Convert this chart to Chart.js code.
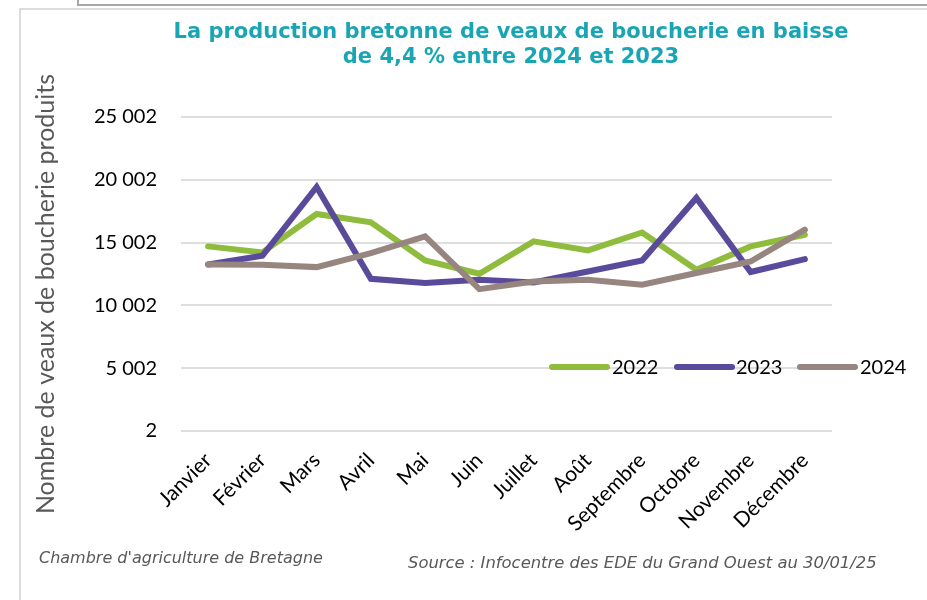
<!DOCTYPE html>
<html lang="fr">
<head>
<meta charset="utf-8">
<script src="https://cdn.jsdelivr.net/npm/chart.js@4/dist/chart.umd.min.js"></script>
<style>
  html, body { margin: 0; padding: 0; background: #fff; }
  #wrap { width: 927px; height: 600px; }
</style>
</head>
<body>
<div id="wrap"><canvas id="veaux" width="927" height="600"></canvas></div>
<script>
// mois et valeurs
const mois = ['Janvier', 'Février', 'Mars', 'Avril', 'Mai', 'Juin', 'Juillet', 'Août', 'Septembre', 'Octobre', 'Novembre', 'Décembre'];
const prod2022 = [14700, 14220, 17280, 16610, 13580, 12520, 15100, 14380, 15810, 12840, 14700, 15630];
const prod2023 = [13260, 13950, 19430, 12120, 11780, 12040, 11830, 12700, 13580, 18560, 12660, 13690];
const prod2024 = [13260, 13240, 13050, 14170, 15500, 11300, 11910, 12040, 11650, 12580, 13500, 16030];
const yTicks = [2, 5002, 10002, 15002, 20002, 25002];

const titre = ['La production bretonne de veaux de boucherie en baisse', 'de 4,4 % entre 2024 et 2023'];
const titreAxeY = 'Nombre de veaux de boucherie produits';
const noteGauche = "Chambre d'agriculture de Bretagne";
const noteDroite = 'Source : Infocentre des EDE du Grand Ouest au 30/01/25';

const fmt = v => String(v).replace(/\B(?=(\d{3})+(?!\d))/g, ' ');

// cadre, titres, légende et notes
const decor = {
    id: 'decor',
    beforeDraw(chart) {
        const c = chart.ctx;
        c.save();
        c.lineWidth = 2;
        c.strokeStyle = '#a6a6a6';
        c.beginPath();
        c.moveTo(78, 0); c.lineTo(78, 5); c.lineTo(927, 5);
        c.stroke();
        c.strokeStyle = '#dcdcdc';
        c.beginPath();
        c.moveTo(20, 600); c.lineTo(20, 9); c.lineTo(927, 9);
        c.stroke();
        c.restore();
    },
    afterDraw(chart) {
        const c = chart.ctx;
        c.save();
        // titre
        c.fillStyle = '#1aa5b5';
        c.font = 'bold 21px "DejaVu Sans"';
        c.textAlign = 'center';
        c.textBaseline = 'alphabetic';
        c.fillText(titre[0], 511, 38);
        c.fillText(titre[1], 511, 63);
        // titre axe Y
        c.fillStyle = '#595959';
        c.font = '25px Lato';
        c.translate(54, 294);
        c.rotate(-Math.PI / 2);
        c.fillText(titreAxeY, 0, 0);
        c.restore();

        // légende
        c.save();
        const leg = [[552, 612], [677, 736], [800, 860]];
        c.font = '20px Lato';
        c.textBaseline = 'middle';
        c.textAlign = 'left';
        chart.data.datasets.forEach((ds, i) => {
            c.strokeStyle = ds.borderColor;
            c.lineWidth = 6;
            c.lineCap = 'round';
            c.beginPath();
            c.moveTo(leg[i][0], 367);
            c.lineTo(leg[i][0] + 55, 367);
            c.stroke();
            c.fillStyle = '#000';
            c.fillText(ds.label, leg[i][1], 368);
        });
        // notes
        c.fillStyle = '#595959';
        c.font = 'italic 16px "DejaVu Sans"';
        c.textBaseline = 'alphabetic';
        c.fillText(noteGauche, 39, 563);
        c.font = 'italic 16.4px "DejaVu Sans"';
        c.fillText(noteDroite, 408, 568);
        c.restore();
    }
};

const ctx = document.getElementById('veaux').getContext('2d');
const chart = new Chart(ctx, {
    type: 'line',
    data: {
        labels: mois,
        datasets: [
            { label: '2022', data: prod2022, borderColor: '#8fbc3c', order: 2 },
            { label: '2023', data: prod2023, borderColor: '#5a4a9c', order: 1 },
            { label: '2024', data: prod2024, borderColor: '#978680', order: 0 }
        ]
    },
    options: {
        responsive: false,
        animation: false,
        layout: { padding: { left: 20, right: 95, top: 117, bottom: 0 } },
        elements: {
            point: { radius: 0, hoverRadius: 0 },
            line: { borderWidth: 6, tension: 0, borderCapStyle: 'round', borderJoinStyle: 'miter', fill: false }
        },
        plugins: {
            legend: { display: false },
            title: { display: false },
            tooltip: { enabled: false }
        },
        scales: {
            x: {
                offset: true,
                grid: { display: false },
                border: { display: false },
                ticks: {
                    color: '#000',
                    font: { family: 'Lato', size: 21 },
                    minRotation: 45,
                    maxRotation: 45,
                    padding: 9
                },
                afterFit(s) { s.height = 169; }
            },
            y: {
                min: 2,
                max: 25002,
                afterBuildTicks(s) { s.ticks = yTicks.map(v => ({ value: v })); },
                grid: { color: '#dedede', lineWidth: 2, drawTicks: false },
                border: { display: false },
                ticks: {
                    color: '#000',
                    font: { family: 'Lato', size: 20 },
                    padding: 24,
                    callback: v => fmt(v)
                },
                afterFit(s) { s.width = 161; }
            }
        }
    },
    plugins: [decor]
});
</script>
</body>
</html>
